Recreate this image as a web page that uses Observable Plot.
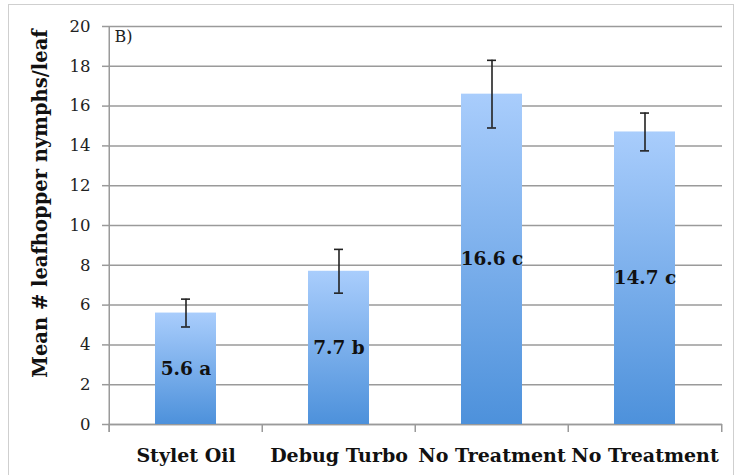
<!DOCTYPE html>
<html>
<head>
<meta charset="utf-8">
<script src="https://cdn.jsdelivr.net/npm/d3@7"></script>
<script src="https://cdn.jsdelivr.net/npm/@observablehq/plot@0.6"></script>
<style>
  html, body { margin: 0; padding: 0; background: #fff; }
  #wrap { position: relative; width: 736px; height: 475px; overflow: hidden; }
  #border { position: absolute; left: 8px; top: 4px; width: 724px; height: 480px; border: 1.5px solid #cfcfcf; pointer-events: none; }
</style>
</head>
<body>
<div id="wrap"><div id="border"></div></div>
<script>
const ids = ["c1", "c2", "c3", "c4"];
const categories = ["Stylet Oil", "Debug Turbo", "No Treatment", "No Treatment"];
const means = [5.6, 7.7, 16.6, 14.7];
const errors = [0.7, 1.1, 1.7, 0.95];
const letters = ["a", "b", "c", "c"];
const yTicks = [0, 2, 4, 6, 8, 10, 12, 14, 16, 18, 20];
const yTitle = "Mean # leafhopper nymphs/leaf";
const panel = "B)";

const data = ids.map((id, i) => ({
  id, name: categories[i], mean: means[i],
  lo: means[i] - errors[i], hi: means[i] + errors[i],
  label: `${means[i]} ${letters[i]}`
}));
const nameOf = new Map(data.map(d => [d.id, d.name]));
const serif = "'DejaVu Serif', serif";
const W = 736, ML = 108, MR = 14;
const step = (W - ML - MR) / ids.length;
const grey = "#9a9a9a";

const chart = Plot.plot({
  width: W,
  height: 475,
  marginLeft: ML,
  marginRight: MR,
  marginTop: 26,
  marginBottom: 51,
  style: { fontFamily: serif, background: "transparent", overflow: "visible" },
  x: { domain: ids, paddingInner: 0.6, paddingOuter: 0.3, label: null },
  y: { domain: [0, 20], label: null },
  marks: [
    Plot.gridY(yTicks, { stroke: grey, strokeOpacity: 1, strokeWidth: 1.5 }),
    Plot.axisY(yTicks, { tickSize: 6, tickPadding: 12, stroke: grey, strokeWidth: 1.5, fontSize: 16.5, fill: "#222", label: null }),
    // left axis line
    Plot.ruleX([ids[0]], { x: d => d, y1: -0.4, y2: 20, dx: -step / 2, stroke: grey, strokeWidth: 1.5 }),
    Plot.axisX({ tickSize: 0, tickPadding: 24, fontSize: 19, fontWeight: "bold", fill: "#111", tickFormat: d => nameOf.get(d), label: null }),
    // category separator ticks below the baseline
    Plot.ruleX(ids, { x: d => d, y1: -0.4, y2: 0, dx: -step / 2, stroke: grey, strokeWidth: 1.5 }),
    Plot.ruleX([ids[ids.length - 1]], { x: d => d, y1: -0.4, y2: 0, dx: step / 2, stroke: grey, strokeWidth: 1.5 }),
    Plot.ruleY([0], { stroke: grey, strokeWidth: 1.5 }),
    Plot.barY(data, { x: "id", y: "mean", fill: "url(#barGrad)" }),
    Plot.ruleX(data, { x: "id", y1: "lo", y2: "hi", stroke: "#222", strokeWidth: 1.6 }),
    Plot.tickY(data, { x: "id", y: "hi", insetLeft: 26, insetRight: 26, stroke: "#222", strokeWidth: 1.6 }),
    Plot.tickY(data, { x: "id", y: "lo", insetLeft: 26, insetRight: 26, stroke: "#222", strokeWidth: 1.6 }),
    Plot.text(data, { x: "id", y: d => d.mean / 2, text: "label", fontSize: 18.5, fontWeight: "bold", fill: "#111" }),
    Plot.text([yTitle], { frameAnchor: "left", text: d => d, textAnchor: "middle", rotate: -90, dx: -68, dy: -22, fontSize: 19.5, fontWeight: "bold", fill: "#111" }),
    Plot.text([panel], { frameAnchor: "top-left", text: d => d, dx: 6, dy: 4, fontSize: 16, textAnchor: "start", lineAnchor: "top", fill: "#222" })
  ]
});

const svg = d3.select(chart);
const grad = svg.insert("defs", ":first-child").append("linearGradient")
  .attr("id", "barGrad").attr("x1", 0).attr("y1", 0).attr("x2", 0).attr("y2", 1);
grad.append("stop").attr("offset", "0%").attr("stop-color", "#a9cdfc");
grad.append("stop").attr("offset", "100%").attr("stop-color", "#4d91db");

document.getElementById("wrap").appendChild(chart);
</script>
</body>
</html>
